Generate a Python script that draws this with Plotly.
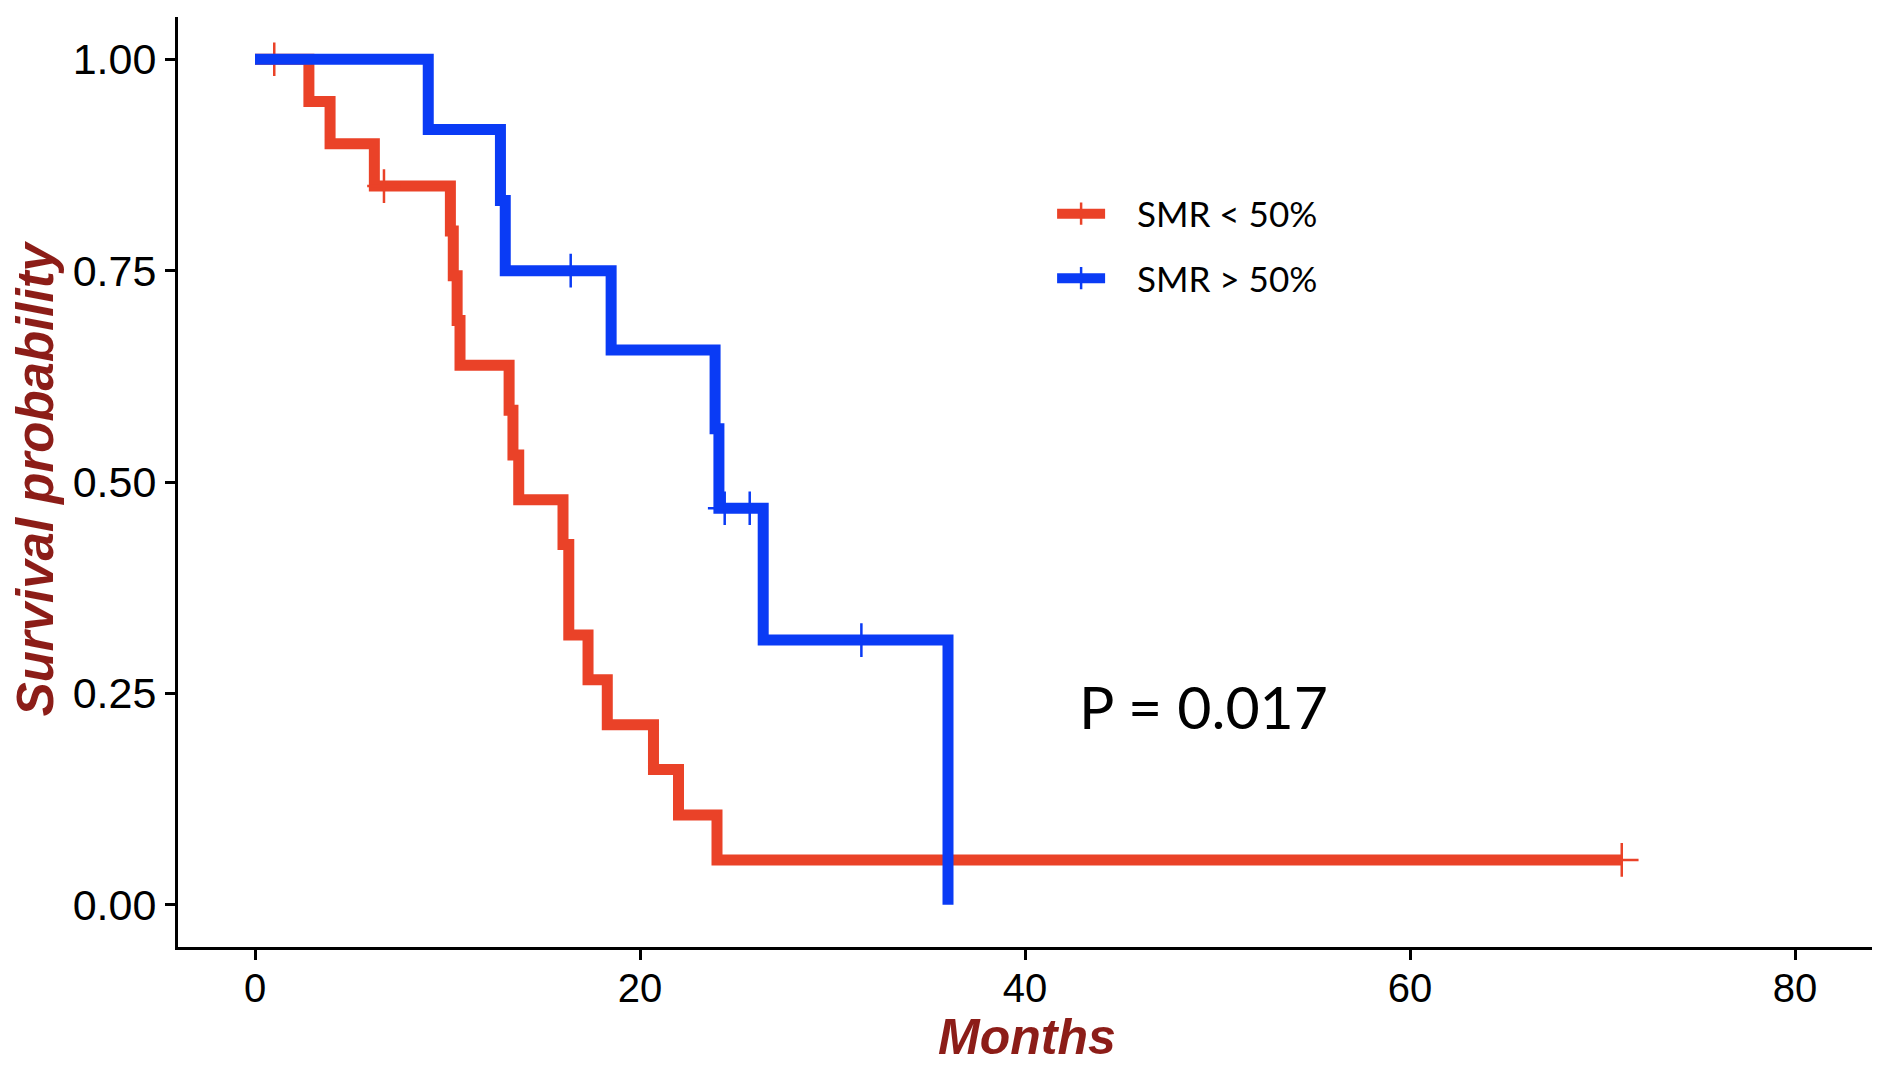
import plotly.graph_objects as go

# ---- data ----
red_times = [0, 2.8, 3.9, 6.2, 10.15, 10.3, 10.5, 10.65, 13.2, 13.4, 13.7, 16.0, 16.3, 17.3, 18.3, 20.7, 22.0, 24.0, 71.0]
red_surv  = [1.0, 0.95, 0.90, 0.85, 0.797, 0.744, 0.691, 0.638, 0.585, 0.532, 0.479, 0.426, 0.319, 0.266, 0.213, 0.160, 0.106, 0.053, 0.053]
red_cens_t = [1.0, 6.7, 71.0]
red_cens_s = [1.0, 0.85, 0.053]

blue_times = [0, 9.0, 12.75, 13.0, 18.5, 23.9, 24.1, 26.4, 36.0]
blue_surv  = [1.0, 0.917, 0.833, 0.75, 0.656, 0.563, 0.469, 0.313, 0.0]
blue_cens_t = [16.4, 24.4, 25.7, 31.5]
blue_cens_s = [0.75, 0.469, 0.469, 0.313]

series_names = ["SMR < 50%", "SMR > 50%"]
x_ticks = [0, 20, 40, 60, 80]
y_ticks = [0, 0.25, 0.5, 0.75, 1.0]
y_tick_labels = ["0.00", "0.25", "0.50", "0.75", "1.00"]
p_text = "P = 0.017"

RED = "#EA4228"
BLUE = "#0A3BF5"
TITLE = "#8C1D18"
LW = 11

fig = go.Figure()

NB = "\u00a0"
for t, s, ct, cs, col, name, grp in [
    (red_times, red_surv, red_cens_t, red_cens_s, RED, series_names[0], "a"),
    (blue_times, blue_surv, blue_cens_t, blue_cens_s, BLUE, series_names[1], "b"),
]:
    fig.add_trace(go.Scatter(x=t, y=s, mode="lines", line=dict(color=col, width=LW, shape="hv"),
                             showlegend=False, hoverinfo="skip", legendgroup=grp))
    fig.add_trace(go.Scatter(x=ct, y=cs, mode="markers",
                             marker=dict(symbol="cross-thin", size=24, line=dict(color=col, width=2.5)),
                             showlegend=False, legendgroup=grp))
    fig.add_trace(go.Scatter(x=[None], y=[None], mode="lines+markers", name=NB * 3 + name,
                             line=dict(color=col, width=LW),
                             marker=dict(symbol="cross-thin", size=16, line=dict(color=col, width=2.5)),
                             legendgroup=grp))

fig.add_annotation(x=49.26, y=0.234, xref="x", yref="y", text=p_text, showarrow=False,
                   font=dict(family="Lato", size=59, color="black"))

# axis titles
fig.add_annotation(x=-0.0844, y=0.504, xref="paper", yref="paper", text="<b><i>Survival probability</i></b>",
                   textangle=-90, showarrow=False, xanchor="center", yanchor="middle",
                   font=dict(family="Liberation Sans", size=51, color=TITLE))
fig.add_annotation(x=0.501, y=-0.0968, xref="paper", yref="paper", text="<b><i>Months</i></b>",
                   showarrow=False, xanchor="center", yanchor="middle",
                   font=dict(family="Liberation Sans", size=50, color=TITLE))

axis_common = dict(showline=True, linecolor="black", linewidth=3, ticks="outside", ticklen=10,
                   tickwidth=3, tickcolor="black", showgrid=False, zeroline=False, automargin=False)

# the page body adds an 8px offset; size the figure so it fills the 1884x1067 window
fig.update_layout(
    width=1876, height=1059,
    margin=dict(l=170, r=12, t=9, b=120),
    paper_bgcolor="white", plot_bgcolor="white",
    xaxis=dict(range=[-4, 84], tickvals=x_ticks, ticktext=[str(v) for v in x_ticks],
               tickfont=dict(family="Liberation Sans", size=40, color="black"),
               ticklabelstandoff=-6, **axis_common),
    yaxis=dict(range=[-0.05, 1.05], tickvals=y_ticks, ticktext=y_tick_labels,
               tickfont=dict(family="Liberation Sans", size=43, color="black"),
               **axis_common),
    legend=dict(x=0.516, y=0.820, xanchor="left", yanchor="top", bgcolor="rgba(0,0,0,0)",
                font=dict(family="Lato", size=35, color="black"), itemwidth=48, tracegroupgap=16),
    showlegend=True,
)

fig.write_html("out.html")
